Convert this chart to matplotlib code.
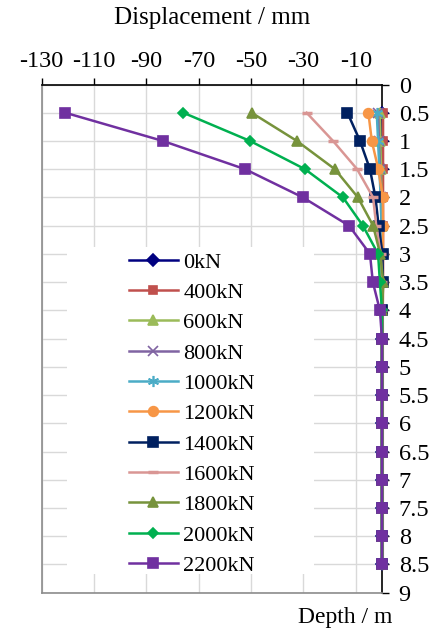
import matplotlib.pyplot as plt
from matplotlib.patches import Rectangle

plt.rcParams['font.family'] = ['Liberation Serif', 'DejaVu Serif']
plt.rcParams['axes.unicode_minus'] = False

# Depth below pile head (m)
depths = [0.5, 1.0, 1.5, 2.0, 2.5, 3.0, 3.5, 4.0, 4.5, 5.0, 5.5, 6.0, 6.5, 7.0, 7.5, 8.0, 8.5]

# Horizontal displacement (mm) for each load step
d_0 = [0, 0, 0, 0, 0, 0, 0, 0, 0, 0, 0, 0, 0, 0, 0, 0, 0]
d_400 = [0.4, 0.4, 0.4, 0.4, 0.4, 0.4, 0.4, 0.3, 0.3, 0.3, 0.3, 0.3, 0.3, 0.3, 0.3, 0.3, 0.3]
d_600 = [-0.8, -0.6, -0.4, -0.2, 0, 0, 0, 0, 0, 0, 0, 0, 0, 0, 0, 0, 0]
d_800 = [-1.5, -1.2, -0.8, -0.4, -0.2, 0, 0, 0, 0, 0, 0, 0, 0, 0, 0, 0, 0]
d_1000 = [-2.0, -1.5, -1.0, -0.5, -0.2, 0, 0, 0, 0, 0, 0, 0, 0, 0, 0, 0, 0]
d_1200 = [-5.2, -3.9, -1.4, 0.3, 0.4, 0.3, 0.2, 0, 0, 0, 0, 0, 0, 0, 0, 0, 0]
d_1400 = [-13.2, -8.4, -4.6, -2.5, -1.3, 0.2, 0.3, 0, 0, 0, 0, 0, 0, 0, 0, 0, 0]
d_1600 = [-28.8, -18.7, -9.5, -3.4, -2.2, -0.5, 0, 0, 0, 0, 0, 0, 0, 0, 0, 0, 0]
d_1800 = [-49.8, -32.5, -18.0, -9.2, -3.4, -0.7, 0.5, 0, 0, 0, 0, 0, 0, 0, 0, 0, 0]
d_2000 = [-75.9, -50.4, -29.4, -14.9, -7.3, -1.5, -0.8, 0, 0, 0, 0, 0, 0, 0, 0, 0, 0]
d_2200 = [-121.0, -83.7, -52.3, -30.2, -12.6, -4.6, -3.5, -0.8, 0, 0, 0, 0, 0, 0, 0, 0, 0]

series = [
    ('0kN', d_0, '#000080', 'D', 6),
    ('400kN', d_400, '#C0504D', 's', 6),
    ('600kN', d_600, '#9BBB59', '^', 7),
    ('800kN', d_800, '#8064A2', 'x', 7),
    ('1000kN', d_1000, '#4BACC6', (6, 2, 0), 8),
    ('1200kN', d_1200, '#F79646', 'o', 7),
    ('1400kN', d_1400, '#002060', 's', 6.5),
    ('1600kN', d_1600, '#D99694', '_', 7),
    ('1800kN', d_1800, '#77933C', '^', 7.5),
    ('2000kN', d_2000, '#00B050', 'D', 5.5),
    ('2200kN', d_2200, '#7030A0', 's', 7.5),
]

x_ticks = [-130, -110, -90, -70, -50, -30, -10]
y_ticks = [i * 0.5 for i in range(19)]

fig = plt.figure(figsize=(4.36, 6.32), dpi=100)
ax = fig.add_axes([41.7 / 436, 1 - 592.7 / 632, 340.3 / 436, 508.2 / 632])

for label, vals, color, marker, ms in series:
    mew = 2.5 if marker == '_' else 1.2
    ax.plot(vals, depths, color=color, marker=marker, markersize=ms,
            markeredgecolor=color, markerfacecolor=color, markeredgewidth=mew,
            linewidth=1.8, label=label, clip_on=False, zorder=3)

ax.set_xlim(-130, 0)
ax.set_ylim(9, 0)
ax.set_xticks(x_ticks)
ax.set_yticks(y_ticks)
ax.set_yticklabels(['%g' % t for t in y_ticks])
ax.xaxis.tick_top()
ax.yaxis.tick_right()
ax.tick_params(axis='x', direction='out', length=5, width=1, pad=4, labelsize=17.5)
ax.tick_params(axis='y', direction='out', length=5, width=1, pad=7, labelsize=17.5)

ax.grid(True, color='#d9d9d9', linewidth=1)
ax.set_axisbelow(True)

for side in ['left', 'bottom']:
    ax.spines[side].set_color('#8c8c8c')
    ax.spines[side].set_linewidth(1.2)
for side in ['top', 'right']:
    ax.spines[side].set_color('black')
    ax.spines[side].set_linewidth(1.2)

# white area behind the legend hides the gridlines
ax.add_patch(Rectangle((0.074, 0.037), 0.726, 0.643, transform=ax.transAxes,
                       facecolor='white', edgecolor='none', zorder=1.5))

ax.legend(loc='upper left', bbox_to_anchor=(129 / 436, 1 - 252 / 632),
          bbox_transform=fig.transFigure, frameon=False, fontsize=16,
          borderpad=0, borderaxespad=0, handlelength=2.2, handletextpad=0.25,
          labelspacing=0.44)

fig.text((41.7 + 382) / 2 / 436, 1 - 18 / 632, 'Displacement / mm',
         ha='center', va='center', fontsize=18)
fig.text(345 / 436, 1 - 618 / 632, 'Depth / m', ha='center', va='center', fontsize=17)

fig.savefig('out.png', dpi=100)
